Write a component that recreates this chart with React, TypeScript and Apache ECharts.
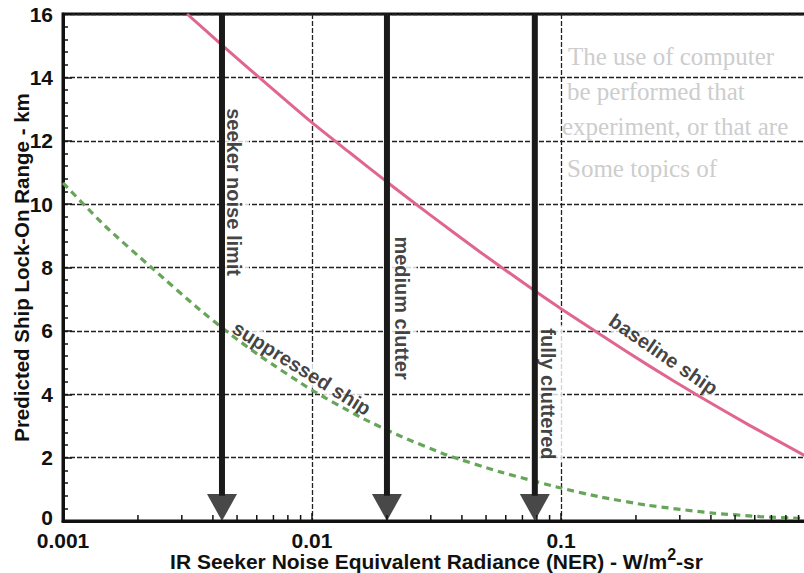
import React, { useEffect, useRef } from 'react';
import * as echarts from 'echarts';

// Baseline ship curve (x: NER W/m2-sr, y: lock-on range km)
const baselineX = [0.00315, 0.00435, 0.0063, 0.01, 0.0142, 0.02, 0.0298, 0.0473, 0.0779, 0.1, 0.1434, 0.2277, 0.3616, 0.5741, 0.9461, 1.0];
const baselineY = [16.0, 15.02, 13.92, 12.57, 11.62, 10.7, 9.66, 8.49, 7.28, 6.7, 5.89, 4.88, 3.92, 3.01, 2.08, 1.98];

// Suppressed ship curve
const suppressedX = [0.001, 0.001475, 0.00228, 0.00355, 0.00469, 0.00618, 0.01, 0.0156, 0.0226, 0.0349, 0.0569, 0.1, 0.1434, 0.2215, 0.4077, 0.63, 0.9461, 1.0];
const suppressedY = [10.67, 9.31, 7.98, 6.66, 5.9, 5.21, 4.13, 3.28, 2.68, 2.08, 1.55, 1.04, 0.76, 0.5, 0.25, 0.14, 0.08, 0.07];

// Vertical arrows (threshold NER levels)
const arrowX = [0.00435, 0.02, 0.0785];
const arrowTopY = 16;
const arrowShaftEndY = 0.8;
const arrowTipY = 0;

// Annotations
const annotationText = ['seeker noise limit', 'medium clutter', 'fully cluttered', 'suppressed ship', 'baseline ship'];
const annotationX = [0.00486, 0.0229, 0.0887, 0.0091, 0.258];
const annotationY = [10.38, 6.72, 4.01, 4.82, 5.26];
const annotationAngle = [-90, -90, -90, -32, -34.5];

// Axis ticks
const xTickValues = [0.001, 0.01, 0.1];
const xTickLabels = ['0.001', '0.01', '0.1'];
const xMinorTicks = [0.002, 0.003, 0.004, 0.005, 0.006, 0.007, 0.008, 0.009,
  0.02, 0.03, 0.04, 0.05, 0.06, 0.07, 0.08, 0.09,
  0.2, 0.3, 0.4, 0.5, 0.6, 0.7, 0.8, 0.9];

// Faint bleed-through text from the scanned page (visible part)
const ghostLines = [
  'The use of computer',
  'be performed that',
  'experiment, or that are',
  'Some topics of',
];

const FONT = '"Liberation Sans", Arial, Helvetica, sans-serif';

export default function App() {
  const ref = useRef<HTMLDivElement>(null);

  useEffect(() => {
    if (!ref.current) return;
    const chart = echarts.init(ref.current, undefined, { renderer: 'svg' });

    const ghostX = [568, 567, 562, 567];
    const ghostY = [44, 79, 114, 156];

    const option: any = {
      animation: false,
      backgroundColor: '#ffffff',
      textStyle: { fontFamily: FONT },
      graphic: {
        elements: ghostLines.map((t, i) => ({
          type: 'text',
          silent: true,
          z: -10,
          x: ghostX[i],
          y: ghostY[i],
          style: {
            text: t,
            font: '25px "Liberation Serif", "Times New Roman", serif',
            fill: '#cdcdcd',
          },
        })),
      },
      grid: {
        left: 63,
        top: 14,
        right: -6,
        bottom: 52,
        show: true,
        borderColor: '#111',
        borderWidth: 3,
        backgroundColor: 'transparent',
        containLabel: false,
        outerBoundsMode: 'none',
      },
      xAxis: {
        type: 'log',
        logBase: 10,
        min: 0.001,
        max: 1,
        name: '{a|IR Seeker Noise Equivalent Radiance (NER) - W/m}{b|2}{a|-sr}',
        nameLocation: 'middle',
        nameGap: 25,
        nameMoveOverlap: false,
        nameTextStyle: {
          rich: {
            a: { fontSize: 21, fontWeight: 'bold', color: '#111', fontFamily: FONT, lineHeight: 26, verticalAlign: 'bottom' },
            b: { fontSize: 16, fontWeight: 'bold', color: '#111', fontFamily: FONT, lineHeight: 26, verticalAlign: 'top', padding: [0, 0, 8, 0] },
          },
        },
        axisLine: { show: true, lineStyle: { color: '#111', width: 3 } },
        axisTick: { show: true, inside: true, length: 8, lineStyle: { color: '#111', width: 1.5 } },
        axisLabel: {
          fontSize: 21,
          fontWeight: 'bold',
          color: '#111',
          margin: 12,
          lineHeight: 15,
          showMaxLabel: false,
          formatter: (v: number) => {
            const i = xTickValues.findIndex((t) => Math.abs(Math.log10(t) - Math.log10(v)) < 1e-6);
            return i >= 0 ? xTickLabels[i] : '';
          },
        },
        splitLine: { show: true, lineStyle: { color: '#222', width: 1.3, type: [5, 2] } },
      },
      yAxis: {
        type: 'value',
        min: 0,
        max: 16,
        interval: 2,
        name: 'Predicted Ship Lock-On Range - km',
        nameLocation: 'middle',
        nameGap: 31,
        nameMoveOverlap: false,
        nameTextStyle: { fontSize: 20.5, fontWeight: 'bold', color: '#111', fontFamily: FONT, lineHeight: 22 },
        axisLine: { show: true, lineStyle: { color: '#111', width: 3 } },
        axisTick: { show: true, inside: true, length: 9, lineStyle: { color: '#111', width: 1.5 } },
        minorTick: { show: true, splitNumber: 5, length: 5, lineStyle: { color: '#111', width: 1.5 } },
        axisLabel: {
          fontSize: 21,
          fontWeight: 'bold',
          color: '#111',
          margin: 10,
          lineHeight: 15,
          formatter: (v: number) => (v === 0 ? '{z|0}' : String(v)),
          rich: {
            z: { fontSize: 21, fontWeight: 'bold', color: '#111', fontFamily: FONT, lineHeight: 15, padding: [0, 0, 8, 0] },
          },
        },
        splitLine: { show: true, lineStyle: { color: '#222', width: 1.3, type: [5, 2] } },
      },
      series: [
        {
          type: 'custom',
          name: 'minor ticks',
          silent: true,
          z: 5,
          data: xMinorTicks.map((v) => [v, 0]),
          encode: { x: 0, y: 1 },
          renderItem: (params: any, api: any) => {
            const p = api.coord([api.value(0), 0]);
            return {
              type: 'line',
              shape: { x1: p[0], y1: p[1], x2: p[0], y2: p[1] - 6 },
              style: { stroke: '#111', lineWidth: 1.5 },
            };
          },
        },
        {
          type: 'scatter',
          name: 'annotations',
          z: 2,
          silent: true,
          symbol: 'circle',
          symbolSize: 1,
          itemStyle: { color: 'transparent' },
          data: annotationText.map((t, i) => ({
            value: [annotationX[i], annotationY[i]],
            label: {
              formatter: t,
              rotate: annotationAngle[i],
              padding: annotationAngle[i] === -90 ? [4, 3] : [0, 2],
            },
          })),
          label: {
            show: true,
            position: 'inside',
            align: 'center',
            verticalAlign: 'middle',
            fontSize: 20,
            fontWeight: 'bold',
            fontFamily: FONT,
            color: '#111',
            backgroundColor: '#ffffff',
            lineHeight: 22,
          },
          emphasis: { disabled: true },
        },
        {
          type: 'line',
          name: 'baseline ship',
          z: 3,
          silent: true,
          smooth: 0.2,
          showSymbol: false,
          symbol: 'none',
          lineStyle: { color: '#e0668f', width: 3 },
          data: baselineX.map((x, i) => [x, baselineY[i]]),
        },
        {
          type: 'line',
          name: 'suppressed ship',
          z: 3,
          silent: true,
          smooth: 0.2,
          showSymbol: false,
          symbol: 'none',
          lineStyle: { color: '#67a55a', width: 3.2, type: [7, 5] },
          data: suppressedX.map((x, i) => [x, suppressedY[i]]),
        },
        ...arrowX.map((x, i) => ({
          type: 'line',
          name: 'arrow' + i,
          z: 4,
          silent: true,
          symbol: 'none',
          lineStyle: { color: '#1a1a1a', width: 6 },
          data: [[x, arrowTopY], [x, arrowShaftEndY]],
        })),
        {
          type: 'scatter',
          name: 'arrowheads',
          z: 4,
          silent: true,
          symbol: 'path://M0,0L30,0L15,27Z',
          symbolSize: [30, 27],
          symbolOffset: [0, '-50%'],
          itemStyle: { color: '#1a1a1a' },
          data: arrowX.map((x) => [x, arrowTipY]),
        },
      ],
    };

    chart.setOption(option);
    return () => chart.dispose();
  }, []);

  return (
    <div
      ref={ref}
      style={{ position: 'absolute', left: 0, top: 0, width: 804, height: 573, background: '#fff' }}
    />
  );
}
